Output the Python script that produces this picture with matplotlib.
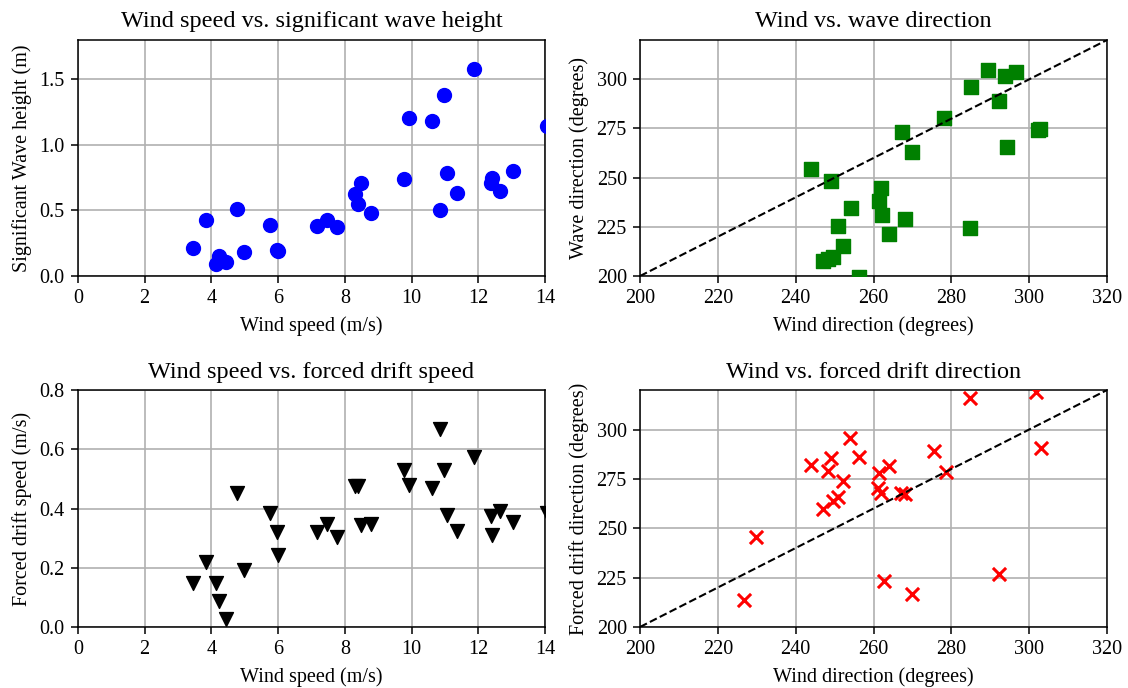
import numpy as np
import matplotlib
matplotlib.use('Agg')
import matplotlib.pyplot as plt

plt.rcParams['font.family'] = ['Liberation Serif', 'DejaVu Serif']

# wind speed vs. significant wave height
ws_hs = [3.45, 3.84, 4.76, 4.24, 4.14, 4.45, 4.99, 5.75, 5.97, 6.0,
         7.16, 7.45, 7.75, 8.29, 8.48, 8.40, 8.78, 9.76, 9.91, 10.60,
         10.96, 11.87, 11.06, 10.86, 11.37, 12.41, 12.37, 12.66, 13.03, 14.06]
hs = [0.216, 0.424, 0.508, 0.152, 0.094, 0.104, 0.183, 0.388, 0.195, 0.190,
      0.383, 0.426, 0.371, 0.627, 0.708, 0.548, 0.477, 0.741, 1.203, 1.183,
      1.381, 1.576, 0.789, 0.505, 0.635, 0.749, 0.713, 0.647, 0.800, 1.142]

# wind speed vs. forced drift speed
ws_drift = [3.45, 3.84, 4.14, 4.23, 4.45, 4.76, 4.99, 5.75, 5.97, 6.0,
            7.16, 7.45, 7.75, 8.29, 8.39, 8.48, 8.78, 9.76, 9.91, 10.60,
            10.86, 10.96, 11.06, 11.37, 11.87, 12.37, 12.41, 12.66, 13.03, 14.06]
drift_speed = [0.147, 0.220, 0.147, 0.087, 0.028, 0.454, 0.194, 0.386, 0.320, 0.244,
               0.322, 0.348, 0.303, 0.477, 0.475, 0.345, 0.347, 0.529, 0.480, 0.468,
               0.667, 0.531, 0.377, 0.324, 0.573, 0.375, 0.311, 0.390, 0.355, 0.384]

# wind vs. wave direction
wd_wave = [243.9, 249.1, 250.9, 254.1, 252.1, 249.6, 248.3, 247.0, 256.2, 262.0,
           261.4, 262.05, 264.1, 268.2, 267.2, 269.8, 278.2, 284.8, 285.1, 289.3,
           292.3, 293.8, 296.6, 294.3, 302.3, 302.9]
wave_dir = [254.2, 248.5, 225.4, 234.5, 215.2, 209.8, 208.6, 207.6, 199.3, 245.0,
            238.2, 231.2, 221.6, 229.2, 273.3, 263.0, 280.2, 224.5, 296.3, 304.8,
            289.2, 301.9, 303.6, 265.5, 274.0, 274.5]

# wind vs. forced drift direction
wd_drift = [226.6, 229.7, 244.0, 249.2, 248.3, 254.0, 256.2, 252.1, 247.0, 249.6,
            250.9, 261.5, 264.1, 261.2, 262.0, 267.1, 268.2, 262.6, 269.8, 275.6,
            278.5, 284.7, 292.2, 301.7, 303.0]
drift_dir = [213.6, 245.4, 282.0, 285.8, 279.0, 295.6, 286.3, 273.9, 259.8, 263.7,
             266.0, 278.2, 281.5, 270.5, 268.0, 268.0, 267.1, 223.4, 216.6, 289.1,
             278.6, 315.8, 227.0, 319.0, 290.7]

fig = plt.figure(figsize=(11.28, 6.88), dpi=100)
ax1 = fig.add_axes([0.0691, 0.5988, 0.4141, 0.3431])
ax2 = fig.add_axes([0.5674, 0.5988, 0.4140, 0.3431])
ax3 = fig.add_axes([0.0691, 0.0887, 0.4141, 0.3444])
ax4 = fig.add_axes([0.5674, 0.0887, 0.4140, 0.3444])

tfs, lfs, kfs = 17.5, 14.5, 14.5
tpad, lpad = 9, 5.5

ax1.scatter(ws_hs, hs, c='blue', marker='o', s=100, zorder=3)
ax1.set_xlim(0, 14)
ax1.set_ylim(0, 1.8)
ax1.set_title('Wind speed vs. significant wave height', fontsize=tfs, pad=tpad)
ax1.set_xlabel('Wind speed (m/s)', fontsize=lfs, labelpad=lpad)
ax1.set_ylabel('Significant Wave height (m)', fontsize=lfs, labelpad=lpad)

ax2.scatter(wd_wave, wave_dir, c='green', marker='s', s=90, zorder=3)
ax2.plot([200, 320], [200, 320], 'k--', lw=1.5, zorder=4)
ax2.set_xlim(200, 320)
ax2.set_ylim(200, 320)
ax2.set_yticks([200, 225, 250, 275, 300])
ax2.set_title('Wind vs. wave direction', fontsize=tfs, pad=tpad)
ax2.set_xlabel('Wind direction (degrees)', fontsize=lfs, labelpad=lpad)
ax2.set_ylabel('Wave direction (degrees)', fontsize=lfs, labelpad=lpad)

ax3.scatter(ws_drift, drift_speed, c='black', marker='v', s=100, zorder=3)
ax3.set_xlim(0, 14)
ax3.set_ylim(0, 0.8)
ax3.set_title('Wind speed vs. forced drift speed', fontsize=tfs, pad=tpad)
ax3.set_xlabel('Wind speed (m/s)', fontsize=lfs, labelpad=lpad)
ax3.set_ylabel('Forced drift speed (m/s)', fontsize=lfs, labelpad=lpad)

ax4.scatter(wd_drift, drift_dir, c='red', marker='x', s=90, linewidths=2.2, zorder=3)
ax4.plot([200, 320], [200, 320], 'k--', lw=1.5, zorder=4)
ax4.set_xlim(200, 320)
ax4.set_ylim(200, 320)
ax4.set_yticks([200, 225, 250, 275, 300])
ax4.set_title('Wind vs. forced drift direction', fontsize=tfs, pad=tpad)
ax4.set_xlabel('Wind direction (degrees)', fontsize=lfs, labelpad=lpad)
ax4.set_ylabel('Forced drift direction (degrees)', fontsize=lfs, labelpad=lpad)

for ax in [ax1, ax2, ax3, ax4]:
    ax.grid(True, color='#b0b0b0', lw=1.2, zorder=0)
    ax.set_axisbelow(True)
    ax.tick_params(labelsize=kfs, length=5, width=1.1, pad=4.5)
    for sp in ax.spines.values():
        sp.set_linewidth(1.1)

fig.savefig('out.png', dpi=100)
